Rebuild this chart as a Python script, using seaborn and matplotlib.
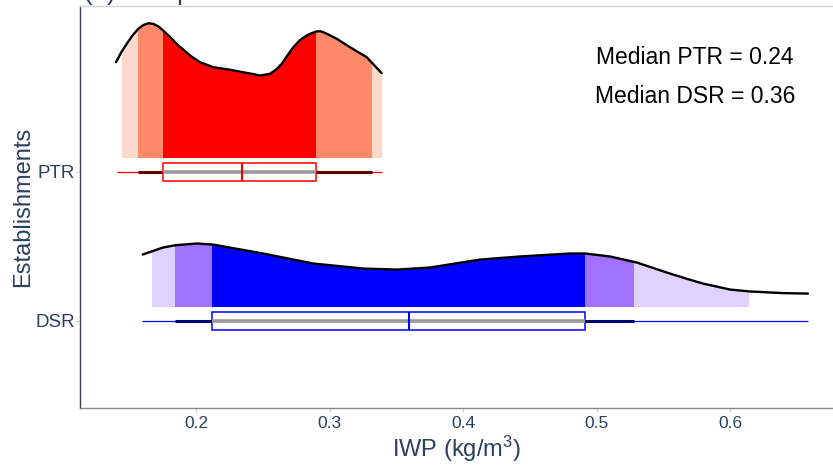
import numpy as np
import pandas as pd
import seaborn as sns
import matplotlib
matplotlib.use("Agg")
import matplotlib.pyplot as plt
from matplotlib.patches import Rectangle

# establishments on the y axis (DSR at 0, PTR at 1)
groups = ["DSR", "PTR"]

# density curves (IWP value, scaled density height)
ptr_x = [0.1401, 0.1440, 0.1481, 0.1525, 0.1568, 0.1605, 0.1643, 0.1680, 0.1718,
         0.1755, 0.1805, 0.1855, 0.1955, 0.2030, 0.2130, 0.2255, 0.2354, 0.2430,
         0.2479, 0.2554, 0.2600, 0.2642, 0.2685, 0.2729, 0.2780, 0.2829, 0.2870,
         0.2904, 0.2929, 0.2954, 0.3000, 0.3054, 0.3154, 0.3279, 0.3391]
ptr_dens = [0.640, 0.706, 0.763, 0.820, 0.864, 0.889, 0.901, 0.897, 0.880,
            0.852, 0.810, 0.763, 0.685, 0.640, 0.606, 0.589, 0.572, 0.560,
            0.550, 0.562, 0.590, 0.629, 0.685, 0.740, 0.789, 0.819, 0.836,
            0.846, 0.848, 0.841, 0.822, 0.797, 0.740, 0.673, 0.566]
dsr_x = [0.1601, 0.1753, 0.1850, 0.2007, 0.2127, 0.2502, 0.2876, 0.3251, 0.3506,
         0.3753, 0.4127, 0.4427, 0.4801, 0.4914, 0.5101, 0.5303, 0.5551, 0.5680,
         0.5798, 0.6000, 0.6150, 0.6400, 0.6584]
dsr_dens = [0.349, 0.396, 0.412, 0.423, 0.416, 0.356, 0.289, 0.255, 0.248,
            0.262, 0.315, 0.336, 0.356, 0.356, 0.336, 0.295, 0.221, 0.185,
            0.154, 0.114, 0.101, 0.090, 0.087]

# shaded interval boundaries (outer -> inner -> outer)
ptr_bands = [0.1446, 0.1566, 0.1753, 0.2899, 0.3318, 0.3393]
dsr_bands = [0.1670, 0.1843, 0.2120, 0.4914, 0.5280, 0.6135]

# box summaries
ptr_box = dict(lo=0.1408, thick_lo=0.1566, q1=0.1753, med=0.2347, q3=0.2899, thick_hi=0.3318, hi=0.3393)
dsr_box = dict(lo=0.1596, thick_lo=0.1843, q1=0.2120, med=0.3596, q3=0.4914, thick_hi=0.5280, hi=0.6584)

median_ptr = 0.24
median_dsr = 0.36

sns.set_theme(style="white")
plt.rcParams["font.family"] = ["Liberation Sans", "DejaVu Sans"]
plt.rcParams["mathtext.fontset"] = "custom"
plt.rcParams["mathtext.rm"] = "Liberation Sans"
plt.rcParams["mathtext.it"] = "Liberation Sans:italic"

txt = "#2a3f5f"

fig = plt.figure(figsize=(8.33, 4.66), dpi=100)
ax = fig.add_axes([80 / 833, 58 / 466, 753 / 833, 402 / 466])

series = [
    (1, ptr_x, ptr_dens, ptr_bands, ptr_box,
     ["#ffd8cc", "#ff8a6a", "#ff0000", "#ff8a6a", "#ffd8cc"], "#ff0000", "#5c0000"),
    (0, dsr_x, dsr_dens, dsr_bands, dsr_box,
     ["#e0d2ff", "#a072ff", "#0000ff", "#a072ff", "#e0d2ff"], "#0000ff", "#00006e"),
]

offset = 0.097
for pos, xs, ds, bands, bx, cols, col, dark in series:
    base = pos + offset
    xs = np.array(xs)
    top = base + np.array(ds)
    for i in range(len(bands) - 1):
        poly = ax.fill_between(xs, base, top, color=cols[i], linewidth=0, zorder=2)
        clip = Rectangle((bands[i], base), bands[i + 1] - bands[i], 2, transform=ax.transData)
        poly.set_clip_path(clip)
    df = pd.DataFrame({"IWP": xs, "dens": top})
    sns.lineplot(data=df, x="IWP", y="dens", color="black", linewidth=1.7, ax=ax, zorder=3)

    ax.hlines(pos, bx["lo"], bx["hi"], color=col, linewidth=0.9, zorder=3)
    ax.hlines(pos, bx["thick_lo"], bx["thick_hi"], color=dark, linewidth=2.2, zorder=4)
    stats = [dict(med=bx["med"], q1=bx["q1"], q3=bx["q3"], whislo=bx["q1"], whishi=bx["q3"], fliers=[])]
    ax.bxp(stats, positions=[pos], widths=0.117, orientation="horizontal", patch_artist=True,
           showcaps=False, showfliers=False, manage_ticks=False,
           boxprops=dict(facecolor="white", edgecolor=col, linewidth=1.1, zorder=5),
           whiskerprops=dict(linewidth=0),
           medianprops=dict(color=col, linewidth=1.5, zorder=7))
    ax.hlines(pos, bx["q1"], bx["q3"], color="#9a9a9a", linewidth=2.6, zorder=6)

ax.set_xlim(0.2 - 116 / 1335, 0.2 + 637 / 1335)
ax.set_ylim(-0.584, 2.114)
ax.set_xticks([0.2, 0.3, 0.4, 0.5, 0.6])
ax.set_xticklabels(["0.2", "0.3", "0.4", "0.5", "0.6"])
ax.set_yticks([0, 1])
ax.set_yticklabels(groups)
ax.tick_params(axis="x", labelsize=12.5, colors="#cccccc", labelcolor=txt, length=3, width=0.8, pad=3, bottom=True)
ax.tick_params(axis="y", labelsize=13.5, colors="#cccccc", labelcolor=txt, length=3, width=0.8, pad=0.5, left=True)
ax.set_xlabel(r"IWP (kg/m$\mathregular{^3}$)", fontsize=17, color=txt, labelpad=2)
ax.set_ylabel("Establishments", fontsize=17, color=txt, labelpad=1)

for s in ["left", "bottom", "top"]:
    ax.spines[s].set_visible(True)
ax.spines["left"].set_color("#3a4150")
ax.spines["left"].set_linewidth(1.0)
ax.spines["bottom"].set_color("#8a8a8a")
ax.spines["bottom"].set_linewidth(1.0)
ax.spines["top"].set_color("#d6d6d6")
ax.spines["top"].set_linewidth(1.0)
ax.spines["right"].set_visible(False)

ax.text(0.817, 0.871, f"Median PTR = {median_ptr:.2f}", transform=ax.transAxes,
        ha="center", va="center", fontsize=16.5, color="black")
ax.text(0.817, 0.774, f"Median DSR = {median_dsr:.2f}", transform=ax.transAxes,
        ha="center", va="center", fontsize=16.5, color="black")

# panel title, cut off by the top edge as in the source figure
fig.text(84 / 833, 0.999, "(a) Comparison of IWP", fontsize=18.5, color=txt, ha="left", va="baseline")

fig.savefig("out.png", dpi=100)
